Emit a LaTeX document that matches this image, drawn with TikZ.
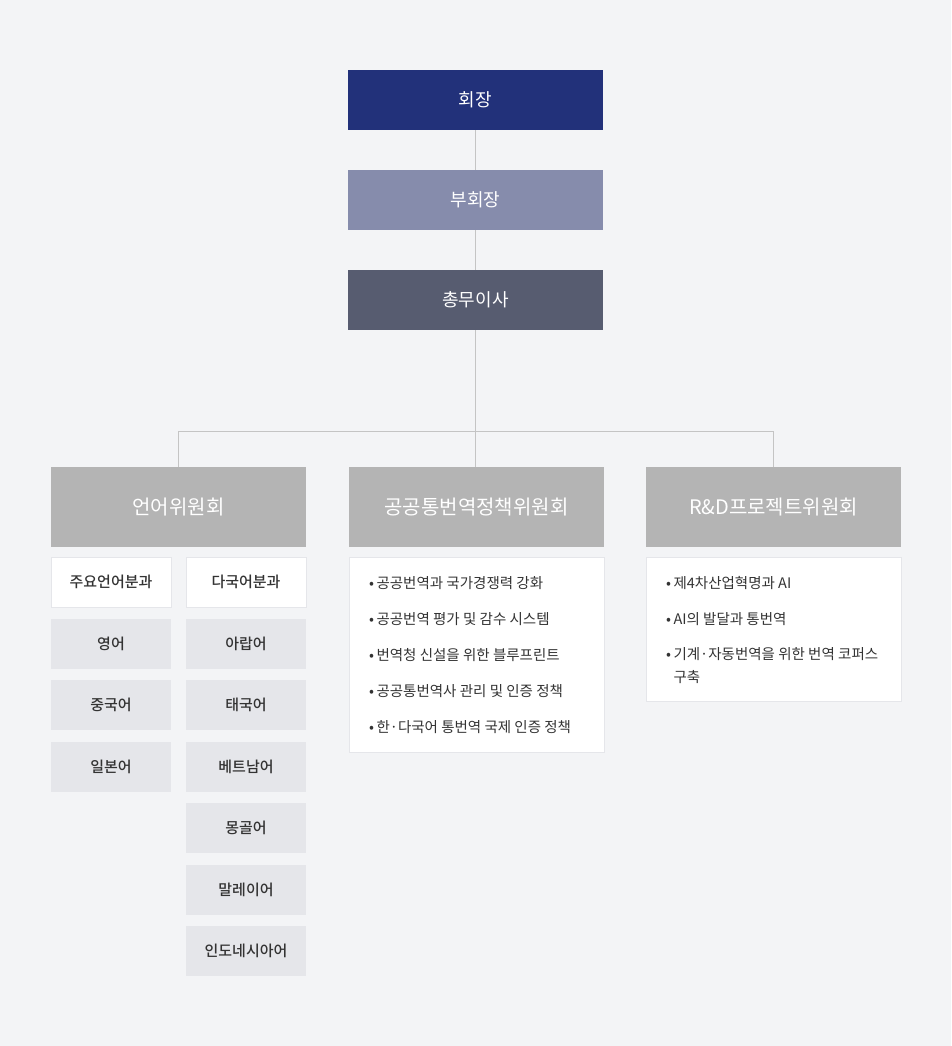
\documentclass[tikz,border=0pt]{standalone}
\usepackage{fontspec}
\setmainfont{Noto Sans CJK KR}
\newfontfamily\medfont{Noto Sans CJK KR Medium}
\definecolor{bg}{HTML}{F3F4F6}
\definecolor{chair}{HTML}{22317A}
\definecolor{vice}{HTML}{868CAC}
\definecolor{sec}{HTML}{575C70}
\definecolor{comm}{HTML}{B4B4B4}
\definecolor{sub}{HTML}{E5E6EA}
\definecolor{edge}{HTML}{C4C4C4}
\definecolor{txt}{HTML}{333333}
\begin{document}
\begin{tikzpicture}[x=1pt,y=-1pt]

      \fill[bg] (0,0) rectangle (951,1046);
      \useasboundingbox (0,0) rectangle (951,1046);

      \begin{scope}[every node/.style={minimum width=255,minimum height=60,inner sep=0,text=white,font=\fontsize{18}{20}\selectfont}]
        \node[fill=chair] (1) at (475.5,100) {회장};
        \node[fill=vice]  (2) at (475.5,200) {부회장};
        \node[fill=sec]   (3) at (475.5,300) {총무이사};
      \end{scope}

      \begin{scope}[every node/.style={minimum width=255,minimum height=80,inner sep=0,fill=comm,text=white,font=\fontsize{20}{22}\selectfont}]
        \node (a) at (178.5,507) {언어위원회};
        \node (b) at (476.5,507) {공공통번역정책위원회};
        \node (c) at (773.5,507) {R\&D프로젝트위원회};
      \end{scope}

      \begin{scope}[every node/.style={minimum width=120,minimum height=50,inner sep=0,fill=sub,text=txt,font=\medfont\fontsize{15}{17}\selectfont}]
        \node[fill=white,draw=sub] (a1) at (111,582) {주요언어분과};
        \node[fill=white,draw=sub] (a2) at (246,582) {다국어분과};
        \foreach \t [count=\i] in {영어,중국어,일본어}
          \node (l\i) at (111,582+61.5*\i) {\t};
        \foreach \t [count=\i] in {아랍어,태국어,베트남어,몽골어,말레이어,인도네시아어}
          \node (m\i) at (246,582+61.5*\i) {\t};
      \end{scope}

      \begin{scope}[every node/.style={fill=white,draw=sub,minimum width=255,inner sep=0}]
        \node[minimum height=195] (bl) at (476.5,654.5) {};
        \node[minimum height=144] (cl) at (773.5,629) {};
      \end{scope}

      \begin{scope}[every node/.style={anchor=west,inner sep=0,text=txt,font=\fontsize{14.5}{23}\selectfont}]
        \foreach \t [count=\i] in {공공번역과 국가경쟁력 강화,공공번역 평가 및 감수 시스템,번역청 신설을 위한 블루프린트,공공통번역사 관리 및 인증 정책,한·다국어 통번역 국제 인증 정책}
          \node (b\i) at (369,547+36*\i) {•\,\t};
        \node (c1) at (666,583) {•\,제4차산업혁명과 AI};
        \node (c2) at (666,619) {•\,AI의 발달과 통번역};
        \node[anchor=north west,align=left] (c3) at (666,647) {•\,기계·자동번역을 위한 번역 코퍼스\\\hphantom{•\,}구축};
      \end{scope}

      \begin{scope}[edge]
        \draw (1) -- (2);
        \draw (2) -- (3);
        \draw (3) -- (3 |- b.north);
        \draw (a.north) -- ++(0,-36) -| (c.north);
      \end{scope}

    \end{tikzpicture}
\end{document}
